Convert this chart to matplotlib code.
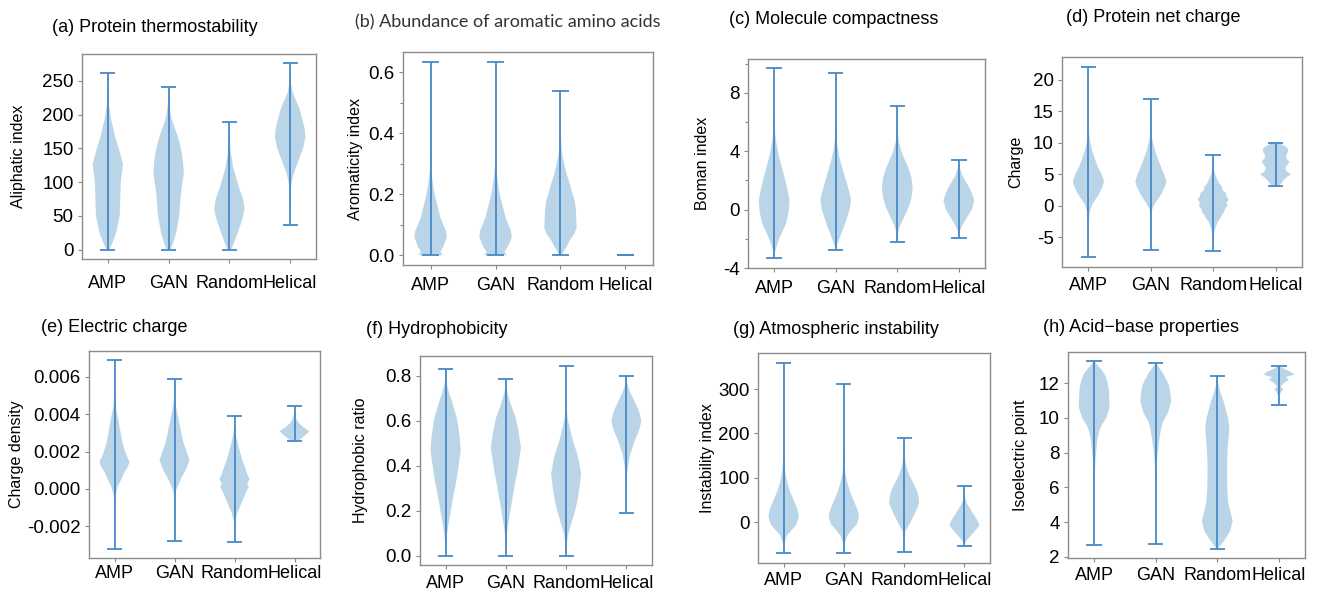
import numpy as np
import matplotlib
matplotlib.use("Agg")
import matplotlib.pyplot as plt
from matplotlib.ticker import MultipleLocator, FormatStrFormatter

plt.rcParams['font.family'] = ['Liberation Sans', 'DejaVu Sans']
plt.rcParams['axes.unicode_minus'] = False

groups = ["AMP", "GAN", "Random", "Helical"]

# each violin: list of (value, relative width),
# first/last value are the min/max caps

# (a) aliphatic index
a_amp = [(0, .1), (10, .3), (25, .55), (50, .78), (75, .82), (100, .85), (127, 1.0), (150, .72),
         (170, .45), (195, .2), (215, .06), (240, .01), (261, .005)]
a_gan = [(0, .12), (10, .3), (25, .5), (50, .7), (75, .78), (90, .85), (112, 1.0), (130, .95),
         (146, .85), (160, .7), (171, .55), (195, .18), (215, .05), (241, .005)]
a_rnd = [(0, .12), (10, .3), (25, .55), (45, .85), (60, 1.0), (75, .9), (93, .62), (110, .4),
         (122, .25), (146, .08), (170, .02), (189, .005)]
a_hel = [(36, .003), (60, .01), (85, .04), (100, .1), (112, .22), (132, .55), (150, .85), (166, 1.0),
         (180, .95), (195, .78), (210, .6), (220, .4), (234, .15), (250, .03), (276, .003)]

# (b) aromaticity index
b_amp = [(0, .75), (.012, .6), (.03, .8), (.06, 1.0), (.08, .95), (.1, .78), (.124, .6), (.15, .48),
         (.178, .35), (.2, .25), (.233, .15), (.26, .08), (.29, .04), (.35, .01), (.45, .003), (.634, .002)]
b_gan = [(0, .7), (.012, .55), (.03, .78), (.06, 1.0), (.08, .95), (.1, .8), (.124, .62), (.15, .5),
         (.178, .36), (.2, .26), (.233, .16), (.26, .09), (.29, .04), (.35, .01), (.45, .003), (.634, .002)]
b_rnd = [(0, .1), (.014, .2), (.03, .4), (.047, .55), (.07, .85), (.09, 1.0), (.12, .97), (.15, .95),
         (.178, .88), (.2, .75), (.233, .58), (.26, .42), (.288, .28), (.32, .15), (.343, .08),
         (.4, .02), (.538, .003)]
b_hel = [(0, 1.0)]

# (c) Boman index
c_amp = [(-3.33, .01), (-2.8, .08), (-2.2, .25), (-1.6, .5), (-1.0, .75), (-.5, .88), (0, .96),
         (.6, 1.0), (1.2, .9), (1.75, .78), (2.3, .65), (2.9, .5), (3.5, .35), (4.0, .24), (4.6, .14),
         (5.1, .07), (6.2, .02), (8, .005), (9.66, .003)]
c_gan = [(-2.76, .01), (-2.3, .12), (-1.6, .38), (-1.0, .6), (-.5, .75), (0, .9), (.67, 1.0),
         (1.2, .88), (1.75, .74), (2.3, .58), (2.9, .42), (3.5, .26), (4.0, .16), (4.6, .08),
         (5.1, .04), (6.2, .01), (9.33, .003)]
c_rnd = [(-2.22, .01), (-1.6, .06), (-1.17, .16), (-.5, .45), (.18, .75), (.8, .92), (1.53, 1.0),
         (2.2, .92), (2.88, .72), (3.5, .45), (4.0, .27), (4.67, .1), (5.3, .04), (6.0, .01), (7.08, .003)]
c_hel = [(-1.98, .01), (-1.5, .07), (-1.17, .18), (-.5, .55), (0, .85), (.63, 1.0), (1.2, .82),
         (1.75, .55), (2.1, .35), (2.4, .2), (2.9, .06), (3.37, .005)]

# (d) net charge
d_amp = [(-8.19, .003), (-3, .01), (-1.1, .07), (0, .2), (.5, .3), (1.2, .5), (2.0, .7), (3.0, .9),
         (3.9, 1.0), (5.0, .85), (6.2, .6), (7.5, .4), (8.9, .22), (10.4, .08), (12, .02), (15, .005),
         (22.1, .002)]
d_gan = [(-6.98, .003), (-2, .01), (-.6, .08), (.3, .25), (1.0, .45), (2.0, .7), (3.0, .9), (3.9, 1.0),
         (5.0, .85), (6.2, .65), (7.3, .48), (8.5, .3), (9.9, .15), (11, .06), (13, .01), (17, .003)]
d_rnd = [(-7.14, .003), (-5, .02), (-4, .08), (-3, .22), (-2.5, .3), (-2, .45), (-1.5, .55), (-1, .7),
         (-.5, .75), (0, .92), (.5, .85), (1, 1.0), (1.5, .85), (2, .82), (2.5, .6), (3, .58),
         (3.5, .4), (4, .3), (5, .12), (6, .04), (8.08, .003)]
d_hel = [(3.1, .2), (3.5, .35), (4, .5), (4.5, .7), (5, 1.0), (5.5, .7), (6, .62), (6.5, .75), (7, .9),
         (7.5, .7), (8, .68), (8.5, .78), (9, .82), (9.5, .6), (10, .2)]

# (e) charge density
e_amp = [(-.0032, .003), (-.0008, .01), (-.0004, .04), (.0001, .2), (.0005, .45), (.00083, .62),
         (.0012, .9), (.00145, 1.0), (.0017, .85), (.00207, .68), (.0025, .52), (.00296, .42),
         (.0034, .32), (.00384, .22), (.0043, .1), (.0047, .04), (.0055, .01), (.00688, .003)]
e_gan = [(-.0028, .003), (-.0005, .01), (-.0001, .1), (.0003, .3), (.00065, .5), (.001, .75),
         (.00154, 1.0), (.002, .8), (.00242, .62), (.0028, .5), (.0033, .38), (.0038, .25),
         (.0042, .15), (.0047, .05), (.0059, .003)]
e_rnd = [(-.00287, .003), (-.0018, .02), (-.0013, .18), (-.0009, .4), (-.0006, .55), (-.0002, .75),
         (.0001, .95), (.0003, .85), (.0005, 1.0), (.0008, .85), (.0012, .68), (.0016, .5),
         (.0021, .33), (.0025, .2), (.003, .06), (.0035, .01), (.00388, .003)]
e_hel = [(.00257, .25), (.0027, .45), (.0029, .75), (.00308, 1.0), (.0033, .6), (.0035, .32),
         (.0037, .15), (.0039, .06), (.0042, .01), (.00444, .003)]

# (f) hydrophobic ratio
f_amp = [(0, .005), (.05, .03), (.1, .1), (.15, .22), (.2, .35), (.26, .5), (.32, .68), (.38, .82),
         (.465, 1.0), (.52, .95), (.57, .85), (.61, .75), (.65, .58), (.686, .42), (.73, .2),
         (.77, .06), (.831, .003)]
f_gan = [(0, .005), (.06, .03), (.1, .07), (.15, .18), (.2, .3), (.26, .45), (.317, .6), (.38, .78),
         (.48, 1.0), (.55, .85), (.61, .67), (.65, .45), (.686, .27), (.72, .12), (.75, .04), (.785, .003)]
f_rnd = [(0, .005), (.05, .04), (.096, .14), (.155, .4), (.2, .6), (.244, .75), (.3, .88), (.362, 1.0),
         (.42, .85), (.465, .68), (.5, .5), (.54, .34), (.58, .2), (.61, .1), (.66, .03), (.72, .01),
         (.846, .003)]
f_hel = [(.189, .003), (.3, .01), (.36, .04), (.39, .09), (.45, .25), (.51, .55), (.56, .85),
         (.598, 1.0), (.64, .85), (.686, .55), (.72, .3), (.745, .15), (.77, .05), (.8, .005)]

# (g) instability index
g_amp = [(-70.5, .003), (-50, .03), (-31, .2), (-15, .6), (-5, .85), (10, 1.0), (21, .98), (35, .85),
         (51, .65), (70, .42), (88, .25), (110, .12), (126, .06), (160, .02), (250, .005), (360, .002)]
g_gan = [(-70.5, .003), (-50, .03), (-31, .22), (-16, .55), (-5, .85), (10, 1.0), (21, .97), (35, .82),
         (51, .62), (70, .4), (88, .24), (110, .1), (130, .04), (170, .01), (312, .002)]
g_rnd = [(-67.5, .003), (-40, .02), (-20, .1), (-5, .35), (13.5, .62), (30, .85), (45, 1.0), (60, .95),
         (75, .8), (88, .62), (105, .35), (126, .15), (145, .05), (170, .01), (189, .003)]
g_hel = [(-54, .02), (-45, .08), (-39, .2), (-24, .6), (-7.5, 1.0), (5, .85), (21, .55), (35, .3),
         (43.5, .15), (60, .03), (81, .003)]

# (h) isoelectric point
h_amp = [(2.66, .003), (4, .005), (6, .01), (6.8, .04), (7.75, .1), (8.7, .2), (9.2, .32), (9.6, .5),
         (10.0, .78), (10.6, 1.0), (11.2, .98), (11.7, .95), (12.1, .85), (12.5, .7), (12.8, .45),
         (13.0, .25), (13.26, .02)]
h_gan = [(2.74, .003), (5, .005), (6.5, .02), (7.6, .08), (8.7, .22), (9.4, .35), (9.8, .48),
         (10.3, .8), (10.96, 1.0), (11.5, .95), (11.9, .85), (12.2, .7), (12.5, .52), (12.8, .3),
         (13.17, .02)]
h_rnd = [(2.47, .05), (2.7, .25), (3.0, .5), (3.5, .85), (4.08, 1.0), (4.6, .85), (5.2, .7), (6.0, .65),
         (7.2, .63), (8.3, .68), (9.0, .75), (9.45, .78), (10.0, .7), (10.5, .55), (11.0, .4),
         (11.5, .2), (11.7, .15), (12.0, .06), (12.43, .01)]
h_hel = [(10.72, .003), (11.2, .02), (11.5, .15), (11.65, .3), (11.8, .12), (12.0, .3), (12.2, .65),
         (12.35, .45), (12.5, 1.0), (12.65, .8), (12.8, .4), (12.98, .05)]

titles = ["(a) Protein thermostability", "(b) Abundance of aromatic amino acids",
          "(c) Molecule compactness", "(d) Protein net charge", "(e) Electric charge",
          "(f) Hydrophobicity", "(g) Atmospheric instability", "(h) Acid\u2212base properties"]
ylabels = ["Aliphatic index", "Aromaticity index", "Boman index", "Charge", "Charge density",
           "Hydrophobic ratio", "Instability index", "Isoelectric point"]
profiles = [[a_amp, a_gan, a_rnd, a_hel], [b_amp, b_gan, b_rnd, b_hel],
            [c_amp, c_gan, c_rnd, c_hel], [d_amp, d_gan, d_rnd, d_hel],
            [e_amp, e_gan, e_rnd, e_hel], [f_amp, f_gan, f_rnd, f_hel],
            [g_amp, g_gan, g_rnd, g_hel], [h_amp, h_gan, h_rnd, h_hel]]

# layout in pixels: axes box (left, top, right, bottom), title pos, ylabel right edge
W, H = 1320, 593
boxes = [(82, 54, 316, 259), (403, 52, 653, 265), (748, 59, 985, 268), (1062, 57, 1302, 267),
         (89, 351, 320, 558), (420, 356, 652, 565), (758, 353, 990, 563), (1068, 352, 1305, 558)]
title_pos = [(52, 28), (355, 22), (729, 20), (1066, 18), (41, 327), (366, 330), (733, 329), (1043, 327)]
ylab_x = [26, 363, 710, 1023, 24, 368, 715, 1028]
xpads = [8.5, 5.8, 5.8, 4.3, 2.4, 4.0, 3.6, 3.6]
major = [50, 0.2, 4, 5, 0.002, 0.2, 100, 2]
minor = [None, 0.1, 2, None, None, None, None, None]
fmts = ['%d', '%.1f', '%d', '%d', '%.3f', '%.1f', '%d', '%d']
ybottom = [None, None, -4, None, None, None, None, None]

fig = plt.figure(figsize=(W / 100, H / 100), dpi=100)

for k in range(8):
    l, t, r, b = boxes[k]
    ax = fig.add_axes([l / W, 1 - b / H, (r - l) / W, (b - t) / H])

    stats = []
    for prof in profiles[k]:
        ys = np.array([p[0] for p in prof], dtype=float)
        ws = np.array([p[1] for p in prof], dtype=float)
        stats.append(dict(coords=ys, vals=ws, min=ys.min(), max=ys.max(),
                          mean=np.nan, median=np.nan))
    parts = ax.violin(stats, positions=[1, 2, 3, 4], widths=0.5, showextrema=True)
    for body in parts['bodies']:
        body.set_facecolor('#1f77b4')
        body.set_edgecolor('none')
        body.set_alpha(0.3)
    for key in ('cmins', 'cmaxes', 'cbars'):
        parts[key].set_color('#4689c8')
        parts[key].set_linewidth(1.3)

    if ybottom[k] is not None:
        ax.set_ylim(bottom=ybottom[k])

    ax.set_xticks([1, 2, 3, 4])
    ax.set_xticklabels(groups, fontsize=13)
    ax.yaxis.set_major_locator(MultipleLocator(major[k]))
    if minor[k]:
        ax.yaxis.set_minor_locator(MultipleLocator(minor[k]))
    ax.yaxis.set_major_formatter(FormatStrFormatter(fmts[k]))
    ax.tick_params(axis='y', which='major', labelsize=13.5, length=3, width=0.8, color='#888888', pad=3)
    ax.tick_params(axis='y', which='minor', length=2, width=0.8, color='#888888')
    ax.tick_params(axis='x', length=3, width=0.8, color='#888888', pad=xpads[k])
    for sp in ax.spines.values():
        sp.set_color('#8c8c8c')
        sp.set_linewidth(1.0)

    ax.set_ylabel(ylabels[k], fontsize=11.5)
    ax.yaxis.set_label_coords((ylab_x[k] - l) / (r - l), 0.5)

    tx, ty = title_pos[k]
    if k == 1:
        fig.text(tx / W, 1 - ty / H, titles[k], ha='left', va='center', fontsize=13,
                 family=['Lato', 'DejaVu Sans'], color='#333333')
    else:
        fig.text(tx / W, 1 - ty / H, titles[k], ha='left', va='center', fontsize=13)

fig.savefig("out.png", dpi=100)
